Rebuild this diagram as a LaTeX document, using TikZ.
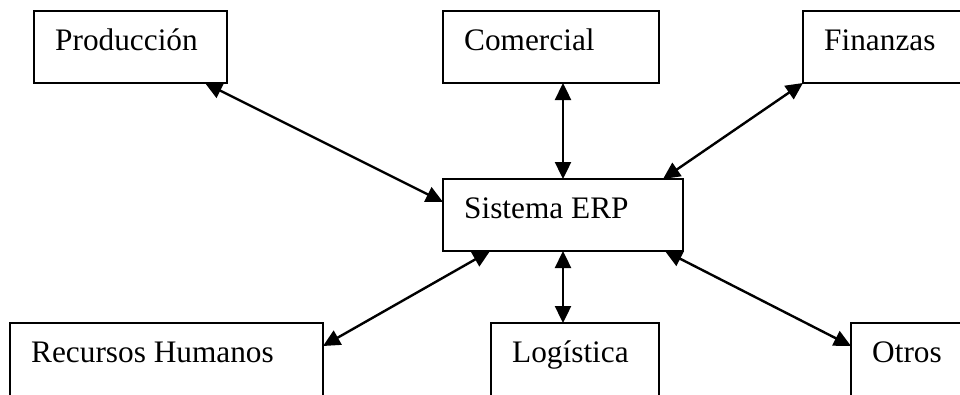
\documentclass[tikz,border=0pt]{standalone}
\usepackage{fontspec}
\setmainfont{Liberation Serif}
\usetikzlibrary{arrows.meta}
\tikzset{
  unitbox/.style={draw, line width=1.8pt, rectangle, anchor=north west,
    inner sep=0pt, outer sep=0pt, label distance=0pt},
  boxtext/.style={anchor=base west, inner sep=0pt, xshift=21pt, yshift=-39pt,
    font=\fontsize{31.3}{36}\selectfont},
  link/.style={line width=2.4pt,
    {Triangle[length=17pt,width=16pt]}-{Triangle[length=17pt,width=16pt]}}
}
\begin{document}
\begin{tikzpicture}[x=1pt,y=-1pt]
  \useasboundingbox (0,0) rectangle (960,394);
  \clip (0,0) rectangle (960,394);
  \fill[white] (0,0) rectangle (960,394);

  % modules around the central system
  \node[unitbox, minimum width=193pt, minimum height=72pt,
    label={[boxtext]north west:Producción}] (prod) at (34,11) {};
  \node[unitbox, minimum width=216pt, minimum height=72pt,
    label={[boxtext]north west:Comercial}] (com) at (443,11) {};
  \node[unitbox, minimum width=200pt, minimum height=72pt,
    label={[boxtext]north west:Finanzas}] (fin) at (803,11) {};
  \node[unitbox, minimum width=240pt, minimum height=72pt,
    label={[boxtext]north west:Sistema ERP}] (erp) at (443,179) {};
  \node[unitbox, minimum width=313pt, minimum height=90pt,
    label={[boxtext]north west:Recursos Humanos}] (rh) at (10,323) {};
  \node[unitbox, minimum width=168pt, minimum height=90pt,
    label={[boxtext]north west:Logística}] (log) at (491,323) {};
  \node[unitbox, minimum width=150pt, minimum height=90pt,
    label={[boxtext]north west:Otros}] (otros) at (851,323) {};

  % two-way links
  \draw[link] ([xshift=-22pt]prod.south east) -- ([yshift=13pt]erp.west);
  \draw[link] (com.south -| erp.north) -- (erp.north);
  \draw[link] (fin.south west) -- ([xshift=-20pt]erp.north east);
  \draw[link] ([xshift=47pt]erp.south west) -- ([yshift=-23pt]rh.north east);
  \draw[link] (erp.south) -- (erp.south |- log.north);
  \draw[link] ([xshift=-18pt]erp.south east) -- ([yshift=-23pt]otros.north west);
\end{tikzpicture}
\end{document}
